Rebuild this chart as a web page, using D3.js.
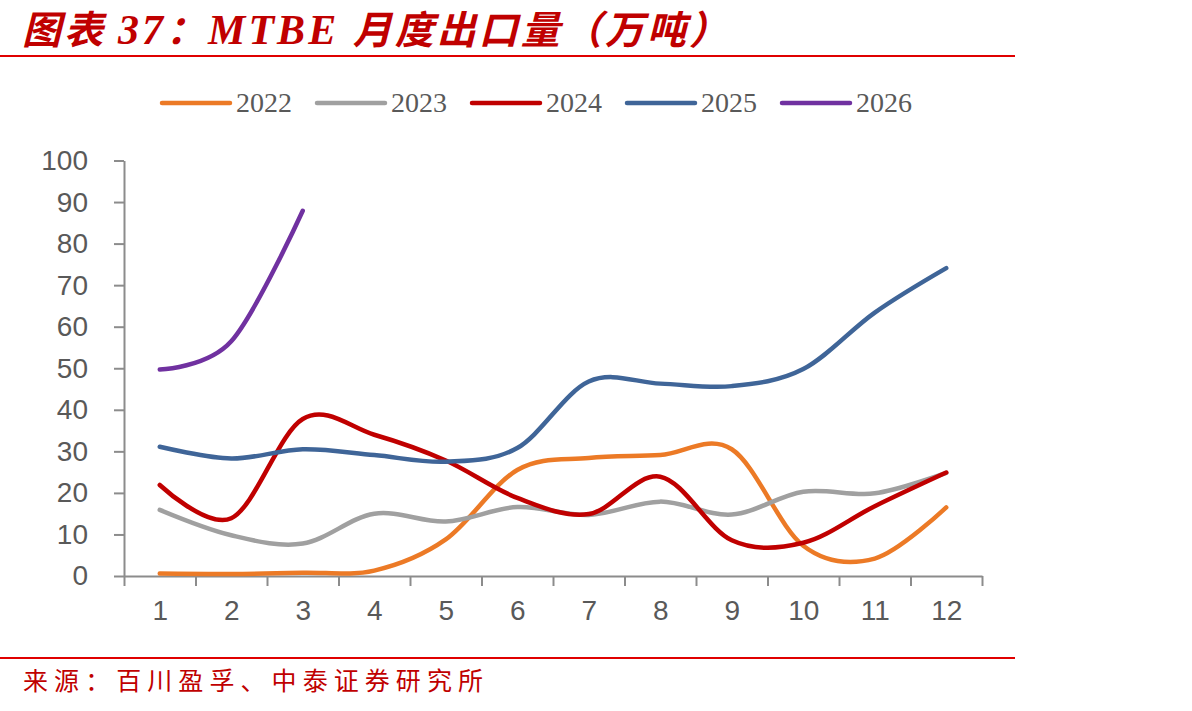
<!doctype html>
<html>
<head>
    <meta charset="UTF-8">
    <title>MTBE 月度出口量</title>
    <script src="https://d3js.org/d3.v7.min.js"></script>
    <style>
        body{ margin:0; background:#fff; }
    </style>
</head>
<body>
   <script>
       // 数据：月度出口量（万吨），读自原图
       var months = [1, 2, 3, 4, 5, 6, 7, 8, 9, 10, 11, 12];
       var years = ["2022", "2023", "2024", "2025", "2026"];
       var s2022 = [0.6, 0.5, 0.8, 1.3, 8.8, 25.5, 28.4, 29.1, 30.5, 7.3, 4.2, 16.5];
       var s2023 = [15.9, 9.8, 7.8, 15.0, 13.1, 16.6, 14.7, 17.9, 14.8, 20.3, 19.9, 24.8];
       var s2024 = [21.9, 13.9, 37.8, 34.0, 27.8, 18.8, 14.9, 23.9, 8.6, 8.0, 16.8, 24.9];
       var s2025 = [31.1, 28.3, 30.5, 29.1, 27.5, 30.8, 46.8, 46.3, 45.7, 49.8, 63.4, 74.1];
       var s2026 = [49.7, 56.5, 87.9];
       var yTicks = [0, 10, 20, 30, 40, 50, 60, 70, 80, 90, 100];

       var seriesList = [s2022, s2023, s2024, s2025, s2026];
       var colors = ["#ec7a26", "#a0a0a0", "#c00000", "#3f6598", "#7031a0"];

       var W = 1192, H = 711;
       var svg = d3.select("body").append("svg").attr("width", W).attr("height", H);

       var x = d3.scaleLinear().domain([0.5, 12.5]).range([124, 982]);
       var y = d3.scaleLinear().domain([0, 100]).range([576, 160.5]);

       // 标题
       var title = svg.append("text")
            .attr("x", 22).attr("y", 44)
            .attr("fill", "#c00000")
            .attr("textLength", 706)
            .attr("lengthAdjust", "spacing")
            .style("font-weight", "bold")
            .style("font-style", "italic")
            .style("font-size", "39px");
       title.append("tspan").style("font-family", "'Noto Sans CJK SC'").text("图表 ");
       title.append("tspan").style("font-family", "'Liberation Serif'").style("font-size", "42px").text("37");
       title.append("tspan").style("font-family", "'Noto Sans CJK SC'").text("：");
       title.append("tspan").style("font-family", "'Liberation Serif'").style("font-size", "42px").text("MTBE ");
       title.append("tspan").style("font-family", "'Noto Sans CJK SC'").text("月度出口量（万吨）");

       svg.append("line").attr("x1", 0).attr("x2", 1015).attr("y1", 56).attr("y2", 56)
            .attr("stroke", "#e00000").attr("stroke-width", 2);
       svg.append("line").attr("x1", 0).attr("x2", 1015).attr("y1", 658).attr("y2", 658)
            .attr("stroke", "#e00000").attr("stroke-width", 2);

       // 来源
       svg.append("text")
            .attr("x", 23).attr("y", 690)
            .attr("fill", "#c00000")
            .attr("textLength", 460)
            .attr("lengthAdjust", "spacing")
            .style("font-family", "'Noto Sans CJK SC'")
            .style("font-size", "25px")
            .text("来源：百川盈孚、中泰证券研究所");

       // 图例
       var legend = svg.append("g");
       for(var i=0; i<years.length; i++){
           var lx = 162 + 155*i;
           legend.append("line")
                .attr("x1", lx).attr("x2", lx+68)
                .attr("y1", 103).attr("y2", 103)
                .attr("stroke", colors[i])
                .attr("stroke-width", 4.5)
                .attr("stroke-linecap", "round");
           legend.append("text")
                .attr("x", lx+74).attr("y", 111.5)
                .attr("fill", "#595959")
                .style("font-family", "'Liberation Serif'")
                .style("font-size", "28px")
                .text(years[i]);
       }

       // 坐标轴
       var axisColor = "#8c8c8c";
       var yAxis = svg.append("g")
            .attr("transform", "translate(124,0)")
            .call(d3.axisLeft(y).tickValues(yTicks).tickSize(10).tickSizeOuter(0).tickPadding(26));

       var xTicks = svg.append("g")
            .attr("transform", "translate(0,576)")
            .call(d3.axisBottom(x).tickValues(d3.range(0.5, 13, 1)).tickSize(10).tickSizeOuter(0).tickFormat(""));

       var xLabels = svg.append("g")
            .attr("transform", "translate(0,576)")
            .call(d3.axisBottom(x).tickValues(months).tickSize(0).tickPadding(24));
       xLabels.select(".domain").remove();

       svg.selectAll(".domain, .tick line")
            .attr("stroke", axisColor)
            .attr("stroke-width", 2);
       svg.selectAll(".tick text")
            .attr("fill", "#595959")
            .style("font-family", "'Liberation Sans', Arial")
            .style("font-size", "28px");

       // 折线
       var line = d3.line()
            .x(function(d, i){ return x(months[i]); })
            .y(function(d){ return y(d); })
            .curve(d3.curveCatmullRom.alpha(0));

       for(var k=0; k<seriesList.length; k++){
           svg.append("path")
                .attr("d", line(seriesList[k]))
                .attr("fill", "none")
                .attr("stroke", colors[k])
                .attr("stroke-width", 4.5)
                .attr("stroke-linecap", "round")
                .attr("stroke-linejoin", "round");
       }
   </script>
</body>
</html>
